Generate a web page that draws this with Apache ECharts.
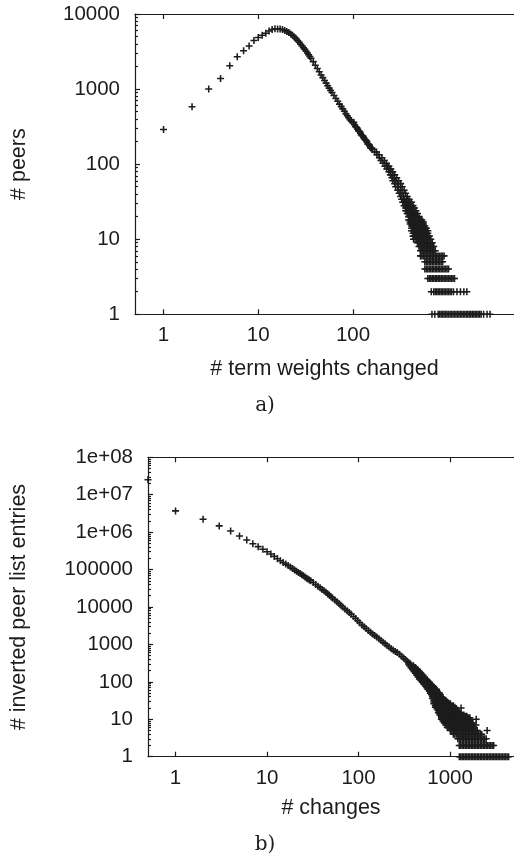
<!DOCTYPE html>
<html><head><meta charset="utf-8">
<script src="https://cdn.jsdelivr.net/npm/echarts@6.0.0/dist/echarts.min.js"></script>
<style>html,body{margin:0;padding:0;background:#fff}#c{width:514px;height:861px}</style>
</head><body><div id="c"></div>
<script>
// ================= DATA =================
// a) # peers vs # term weights changed
const termWeightsRising = [[1,290],[2,580],[3,1000],[4,1380],[5,2050],[6,2700],[7,3250],[8,3750],[9,4450],[10,4850],[11,5200],[12,5550],[13,5950],[14,6200],[15,6350],[16,6300],[17,6300]];
const termWeightsFalling = [[18,6200],[19,6050],[20,5850],[21,5650],[22,5400],[23,5200],[24,4950],[25,4700],[26,4450],[27,4200],[28,3950],[29,3750],[30,3550],[31,3380],[32,3200],[33,3030],[34,2870],[35,2720],[36,2580],[38,2320],[40,2080],[42,1880],[44,1700],[46,1540],[48,1420],[50,1300],[52,1200],[54,1110],[56,1030],[58,960],[60,900],[63,820],[66,750],[69,690],[72,630],[75,585],[78,545],[81,505],[84,470],[87,440],[90,415],[93,390],[96,372],[100,355],[102,362],[104,335],[106,318],[108,312],[110,306],[112,292],[114,278],[116,275],[118,270],[120,258],[122,245],[125,240],[128,236],[130,225],[133,214],[135,210],[138,207],[140,198],[143,186],[145,186],[148,181],[150,175],[153,166],[155,165],[158,163],[160,157]];
// rows: [peers, [term weights changed ...]]
const peersRows = [
[145,[169,177]],[133,[179,188]],[122,[190,202]],[112,[197,214]],[103,[207,225]],
[94,[217,230,239]],[86,[227,242,251]],[79,[239,251,263]],[72,[248,263,275]],[66,[257,272,289]],
[60,[263,282,303]],[55,[275,296,318]],[50,[282,303,330]],[45,[296,318,346]],[41,[307,330,359]],
[37,[318,342,373]],[34,[326,346,368,390]],
[31,[334,346,359,372,386,400,415]],
[28,[346,359,372,386,400,415,430]],
[26,[359,372,386,400,415,430,446]],
[24,[359,372,386,400,415,430,446,462]],
[22,[372,386,400,415,430,446,462,479]],
[20,[386,400,415,430,446,462,479,497]],
[18,[386,400,415,430,446,462,479,497,515,534]],
[17,[400,415,430,446,462,479,497,515,534,553]],
[16,[400,415,430,446,462,479,497,515,534,553]],
[15,[415,430,446,462,479,497,515,534,553,573]],
[14,[415,430,446,462,479,497,515,534,553,573,594]],
[13,[415,430,446,462,479,497,515,534,553,573,594,616]],
[12,[430,446,462,479,497,515,534,553,573,594,616]],
[11,[430,446,462,479,497,515,534,553,573,594,616,639]],
[10,[435,451,467,479,497,515,534,553,573,594,616,639,662]],
[9,[479,497,515,534,553,573,594,616,639,662,686]],
[8,[497,515,534,553,573,594,616,639,662,686,711]],
[7,[515,534,553,573,594,616,639,662,686,711,738]],
[6,[515,534,553,573,594,616,639,662,686,711,738,765,792,822,852,883,915]],
[5,[573,594,616,639,662,686,711,738,765,792,822,852,883]],
[4,[573,594,616,639,662,686,711,738,765,792,822,852,883,915,949,983,1019]],
[3,[616,639,662,686,711,738,765,792,822,852,883,915,949,983,1019,1057,1095,1136,1177]],
[2,[670,711,738,765,792,822,852,883,915,949,983,1019,1057,1095,1149,1250,1360,1478,1589]],
[1,[681,729,792,822,852,883,915,949,983,1019,1057,1095,1136,1177,1220,1265,1311,1359,1409,1461,1514,1570,1627,1687,1748,1813,1879,1948,2020,2094,2171,2250,2389,2598,2793]]
];

// b) # inverted peer list entries vs # changes
const changesHead = [[0.5,2.5e7],[1,3.7e6],[2,2.2e6],[3,1.47e6],[4,1.08e6],[5,7.9e5],[6,6.2e5],[7,4.9e5],[8,4.1e5],[9,3.5e5],[10,3.0e5],[11,2.6e5],[12,2.25e5],[13,1.95e5],[14,1.72e5],[15,1.55e5],[16,1.4e5],[17,1.28e5],[18,1.17e5],[19,1.07e5],[20,9.8e4],[21,9.0e4],[22,8.4e4],[23,7.8e4],[24,7.3e4],[25,6.8e4],[26,6.3e4],[27,5.9e4],[28,5.6e4],[29,5.3e4],[30,5.0e4],[32,4.5e4],[34,4.0e4],[36,3.6e4],[38,3.25e4],[40,2.95e4],[42,2.7e4],[44,2.48e4],[46,2.27e4],[48,2.05e4],[50,1.88e4],[52,1.74e4],[55,1.55e4],[58,1.38e4],[61,1.24e4],[64,1.12e4],[67,1.0e4],[71,8.9e3],[75,7.9e3],[79,7.1e3],[83,6.4e3],[88,5.6e3],[93,4.9e3],[98,4.3e3],[103,3.8e3],[109,3.3e3],[115,2.95e3],[121,2.65e3],[128,2.35e3],[135,2.1e3],[142,1.9e3],[150,1.72e3],[158,1.58e3],[167,1.42e3],[176,1.28e3],[185,1.15e3],[195,1.04e3],[205,940],[216,850],[228,770],[240,700],[252,650],[265,605],[280,545],[295,485],[310,435],[325,395],[340,357],[355,326]];
// rows: [entries, [changes ...]]
const changesRows = [
[300,[352,370]],[270,[361,379,399]],[240,[375,389,404,419]],[215,[389,404,419,441]],
[190,[404,419,435,452,463]],[170,[419,435,452,469,481]],[150,[435,452,469,487,506]],
[135,[447,463,481,499,525]],[120,[463,481,499,519,542]],[108,[481,499,519,538,559,566]],
[97,[499,519,538,559,580,595]],[87,[519,538,559,580,602,618]],[78,[538,559,580,602,626,642]],
[70,[559,580,602,626,650,675]],[63,[573,595,618,642,666,692,709]],[56,[595,618,642,666,692,718]],
[50,[610,634,658,683,709,736,765]],[45,[626,650,675,700,727,755,784]],
[40,[642,666,692,719,746,775,804]],[36,[642,666,692,719,746,775,804,835]],
[32,[666,692,719,746,775,804,835,867,900]],[29,[666,692,719,746,775,804,835,867,900,934]],
[26,[666,692,719,746,775,804,835,867,900,934,970,1008]],
[23,[692,719,746,775,804,835,867,900,934,970,1008,1046,1086]],
[21,[692,719,746,775,804,835,867,900,934,970,1008,1046,1086,1128]],
[20,[1320]],
[19,[719,746,775,804,835,867,900,934,970,1008,1046,1086,1128,1171]],
[17,[746,775,804,835,867,900,934,970,1008,1046,1086,1128,1171,1216]],
[15,[746,775,804,835,867,900,934,970,1008,1046,1086,1128,1171,1216,1262]],
[14,[775,804,835,867,900,934,970,1008,1046,1086,1128,1171,1216,1262,1311]],
[13,[775,804,835,867,900,934,970,1008,1046,1086,1128,1171,1216,1262,1311,1361,1413]],
[12,[804,835,867,900,934,970,1008,1046,1086,1128,1171,1216,1262,1311,1361,1413,1467,1523]],
[11,[804,835,867,900,934,970,1008,1046,1086,1128,1171,1216,1262,1311,1361,1413,1467,1523,1582,1642]],
[10,[804,835,867,900,934,970,1008,1046,1086,1128,1171,1216,1262,1311,1361,1413,1467,1523,1582,1642,1931]],
[9,[835,867,900,934,970,1008,1046,1086,1128,1171,1216,1262,1311,1361,1413,1467,1523,1582,1642]],
[8,[867,900,934,970,1008,1046,1086,1128,1171,1216,1262,1311,1361,1413,1467,1523,1582,1642,1706,1771]],
[7,[900,934,970,1008,1046,1086,1128,1171,1216,1262,1311,1361,1413,1467,1523,1582,1642,1706,1771,1920]],
[6,[934,970,1008,1046,1086,1128,1171,1216,1262,1311,1361,1413,1467,1523,1582,1642,1706,1771,1838]],
[5,[1008,1046,1086,1128,1171,1216,1262,1311,1361,1413,1467,1523,1582,1642,1706,1771,1838,1909,1982,2543]],
[4,[1086,1128,1171,1216,1262,1311,1361,1413,1467,1523,1582,1642,1706,1771,1838,1909,1982,2058,2137,2218]],
[3,[1216,1262,1311,1361,1413,1467,1523,1582,1642,1706,1771,1838,1909,1982,2058,2137,2218,2304,2392,2483]],
[2,[1262,1311,1361,1413,1467,1523,1582,1642,1706,1771,1838,1909,1982,2058,2137,2218,2304,2392,2483,2578,2677,2780,2886,2997]],
[1,[1262,1311,1361,1413,1467,1523,1582,1642,1706,1771,1838,1909,1982,2058,2137,2218,2304,2392,2483,2578,2677,2780,2886,2997,3112,3230,3354,3483,3616,3754,3898,4048,4202,4364]]
];

// tick values and labels
const xTicksA = [1, 10, 100];
const xLabelsA = ['1', '10', '100'];
const yTicksA = [1, 10, 100, 1000, 10000];
const yLabelsA = ['1', '10', '100', '1000', '10000'];
const xTicksB = [1, 10, 100, 1000];
const xLabelsB = ['1', '10', '100', '1000'];
const yTicksB = [1, 10, 100, 1000, 10000, 100000, 1e6, 1e7, 1e8];
const yLabelsB = ['1', '10', '100', '1000', '10000', '100000', '1e+06', '1e+07', '1e+08'];
const minorMultipliers = [2, 3, 4, 5, 6, 7, 8, 9];

// ================= CHART =================
const FONT = '"Liberation Sans", Arial, Helvetica, sans-serif';
const INK = '#1c1c1c';
const plusSymbol = 'path://M0,3.9H3.9V0H6.1V3.9H10V6.1H6.1V10H3.9V6.1H0Z';

function flattenRows(rows) {
  const out = [];
  rows.forEach(([y, xs]) => xs.forEach(x => out.push([x, y])));
  return out;
}
function minorTicks(maxValue) {
  const out = [];
  for (let d = 1; d < maxValue; d *= 10) minorMultipliers.forEach(m => out.push(m * d));
  return out;
}
function labelFrom(ticks, labels) {
  return v => { const i = ticks.findIndex(t => Math.abs(t - v) / t < 1e-6); return i >= 0 ? labels[i] : ''; };
}
const lineStyle = { color: INK, width: 1.2 };

function xMain(gridIndex, ticks, labels, name, nameGap) {
  return {
    type: 'log', logBase: 10, gridIndex, position: 'bottom', min: 0.5, max: 5000,
    axisLine: { show: true, onZero: false, lineStyle },
    axisTick: { show: true, inside: true, length: 5, customValues: ticks, lineStyle },
    minorTick: { show: false },
    axisLabel: { show: true, customValues: ticks, formatter: labelFrom(ticks, labels), color: INK, fontSize: 20.5, fontFamily: FONT, margin: 11 },
    splitLine: { show: false },
    name, nameLocation: 'middle', nameGap,
    nameTextStyle: { color: INK, fontSize: 21.5, fontFamily: FONT }
  };
}
function xMirror(gridIndex, ticks) {
  return {
    type: 'log', logBase: 10, gridIndex, position: 'top', min: 0.5, max: 5000,
    axisLine: { show: true, onZero: false, lineStyle },
    axisTick: { show: true, inside: true, length: 5, customValues: ticks, lineStyle },
    axisLabel: { show: false }, splitLine: { show: false }
  };
}
function yMain(gridIndex, max, ticks, labels, name, nameGap) {
  return {
    type: 'log', logBase: 10, gridIndex, position: 'left', min: 1, max,
    axisLine: { show: true, onZero: false, lineStyle },
    axisTick: { show: true, inside: true, length: 5, customValues: ticks, lineStyle },
    axisLabel: { show: true, customValues: ticks, formatter: labelFrom(ticks, labels), color: INK, fontSize: 20.5, fontFamily: FONT, margin: 15 },
    splitLine: { show: false },
    name, nameLocation: 'middle', nameGap, nameRotate: 90,
    nameTextStyle: { color: INK, fontSize: 21.5, fontFamily: FONT }
  };
}
function yMinor(gridIndex, max) {
  return {
    type: 'log', logBase: 10, gridIndex, position: 'left', min: 1, max,
    axisLine: { show: false },
    axisTick: { show: true, inside: true, length: 3, customValues: minorTicks(max), lineStyle },
    axisLabel: { show: false }, splitLine: { show: false }
  };
}

const option = {
  animation: false,
  backgroundColor: '#fff',
  grid: [
    { left: 134, top: 14, width: 384, height: 300.3 },
    { left: 146.7, top: 457.3, width: 367.6, height: 299.4 }
  ],
  xAxis: [
    xMain(0, xTicksA, xLabelsA, '# term weights changed', 44),
    xMirror(0, xTicksA),
    xMain(1, xTicksB, xLabelsB, '# changes', 40),
    xMirror(1, xTicksB)
  ],
  yAxis: [
    yMain(0, 10000, yTicksA, yLabelsA, '# peers', 105),
    yMinor(0, 10000),
    yMain(1, 1e8, yTicksB, yLabelsB, '# inverted peer list entries', 118),
    yMinor(1, 1e8)
  ],
  series: [
    {
      type: 'scatter', xAxisIndex: 0, yAxisIndex: 0, silent: true,
      symbol: plusSymbol, symbolSize: 7,
      itemStyle: { color: INK, opacity: 1 },
      data: termWeightsRising.concat(termWeightsFalling, flattenRows(peersRows))
    },
    {
      type: 'scatter', xAxisIndex: 2, yAxisIndex: 2, silent: true,
      symbol: plusSymbol, symbolSize: 7,
      itemStyle: { color: INK, opacity: 1 },
      data: changesHead.concat(flattenRows(changesRows))
    }
  ],
  graphic: [
    { type: 'text', style: { text: 'a)', x: 265, y: 406, textAlign: 'center', textVerticalAlign: 'middle', fill: INK, font: '20px "DejaVu Serif", serif' } },
    { type: 'text', style: { text: 'b)', x: 265, y: 845, textAlign: 'center', textVerticalAlign: 'middle', fill: INK, font: '20px "DejaVu Serif", serif' } }
  ]
};
const chart = echarts.init(document.getElementById('c'), null, { renderer: 'canvas' });
chart.setOption(option);
</script>
</body></html>
